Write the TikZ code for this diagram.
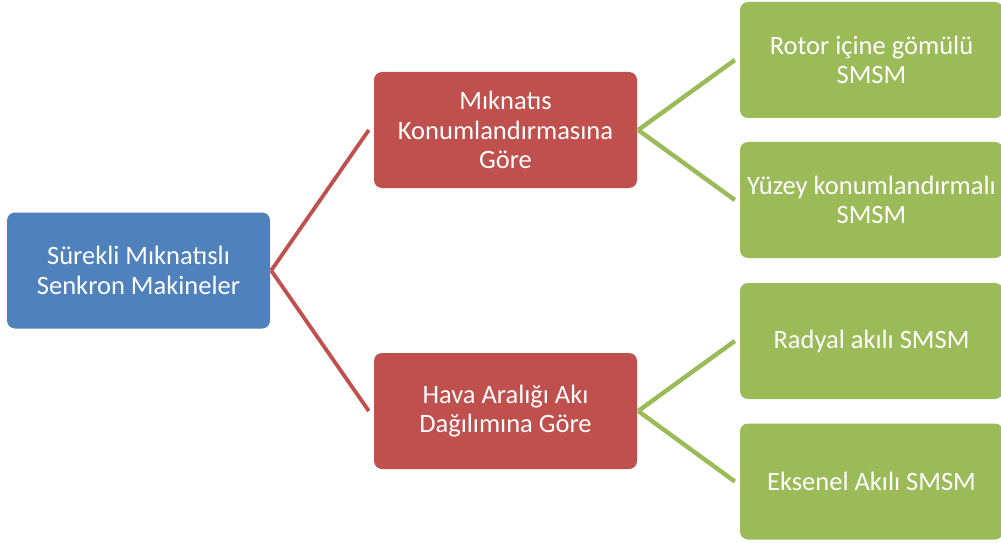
\documentclass[tikz,border=0pt]{standalone}
\usepackage{fontspec}
\setmainfont{Carlito}
\definecolor{blu}{HTML}{4F81BD}
\definecolor{rd}{HTML}{C0504D}
\definecolor{grn}{HTML}{9BBB59}
\begin{document}
\begin{tikzpicture}[x=1pt,y=1pt,
  box/.style={rounded corners=8pt, minimum width=263pt, minimum height=116pt,
    text=white, font=\fontsize{26.5}{29.5}\selectfont, align=center, inner sep=0pt},
  redline/.style={draw=rd, line width=3.8pt},
  grnline/.style={draw=grn, line width=4.4pt}]
\useasboundingbox (0,0) rectangle (1001,542);
\node[box, fill=blu] (root) at (138.5,271.5) {Sürekli Mıknatıslı\\Senkron Makineler};
\node[box, fill=rd] (r1) at (505.5,412) {Mıknatıs\\Konumlandırmasına\\Göre};
\node[box, fill=rd] (r2) at (505.5,131) {Hava Aralığı Akı\\Dağılımına Göre};
\node[box, fill=grn] (g1) at (871.5,482) {Rotor içine gömülü\\SMSM};
\node[box, fill=grn] (g2) at (871.5,342) {Yüzey konumlandırmalı\\SMSM};
\node[box, fill=grn] (g3) at (871.5,201) {Radyal akılı SMSM};
\node[box, fill=grn] (g4) at (871.5,60.5) {Eksenel Akılı SMSM};
\draw[redline] ([xshift=1pt]root.east) -- ([xshift=-5pt]r1.west);
\draw[redline] ([xshift=1pt]root.east) -- ([xshift=-5pt]r2.west);
\draw[grnline] ([xshift=1pt]r1.east) -- ([xshift=-5pt]g1.west);
\draw[grnline] ([xshift=1pt]r1.east) -- ([xshift=-5pt]g2.west);
\draw[grnline] ([xshift=1pt]r2.east) -- ([xshift=-5pt]g3.west);
\draw[grnline] ([xshift=1pt]r2.east) -- ([xshift=-5pt]g4.west);
\end{tikzpicture}
\end{document}
